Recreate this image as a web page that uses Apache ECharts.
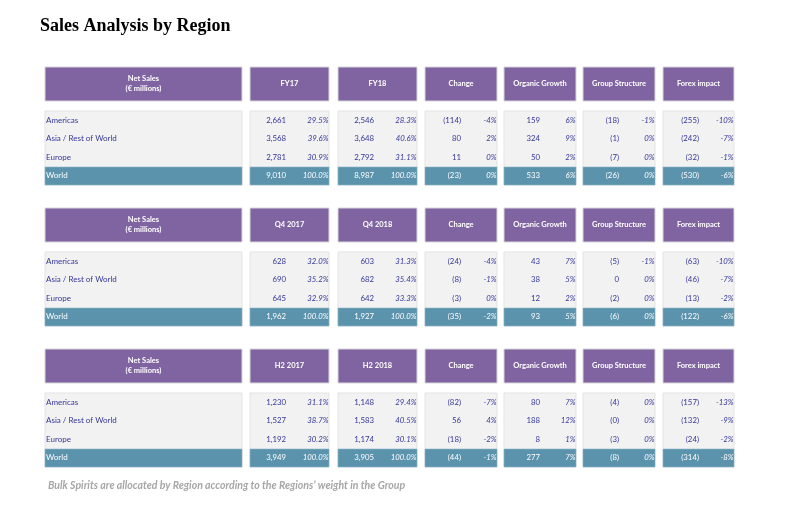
<!DOCTYPE html>
<html><head><meta charset="utf-8">
<script src="https://cdn.jsdelivr.net/npm/echarts@6/dist/echarts.min.js"></script>
<style>html,body{margin:0;padding:0;background:#fff}#c{width:806px;height:506px}</style>
</head><body><div id="c"></div>
<script>
// ---------- DATA ----------
const chartTitle = 'Sales Analysis by Region';
const footnote = 'Bulk Spirits are allocated by Region according to the Regions\u2019 weight in the Group';
const regions = ['Americas', 'Asia / Rest of World', 'Europe', 'World'];
const cornerLabel = 'Net Sales\n(\u20ac millions)';
const headersFY = ['FY17', 'FY18', 'Change', 'Organic Growth', 'Group Structure', 'Forex impact'];
const headersQ4 = ['Q4 2017', 'Q4 2018', 'Change', 'Organic Growth', 'Group Structure', 'Forex impact'];
const headersH2 = ['H2 2017', 'H2 2018', 'Change', 'Organic Growth', 'Group Structure', 'Forex impact'];
// amounts per row (Americas, Asia/RoW, Europe, World): [prev, curr, change, organic, group, forex]
const amountsFY = [
  [2661, 2546, -114, 159, -18, -255],
  [3568, 3648, 80, 324, -1, -242],
  [2781, 2792, 11, 50, -7, -32],
  [9010, 8987, -23, 533, -26, -530]
];
const pctsFY = [
  [29.5, 28.3, -4, 6, -1, -10],
  [39.6, 40.6, 2, 9, 0, -7],
  [30.9, 31.1, 0, 2, 0, -1],
  [100.0, 100.0, 0, 6, 0, -6]
];
const amountsQ4 = [
  [628, 603, -24, 43, -5, -63],
  [690, 682, -8, 38, 0, -46],
  [645, 642, -3, 12, -2, -13],
  [1962, 1927, -35, 93, -6, -122]
];
const pctsQ4 = [
  [32.0, 31.3, -4, 7, -1, -10],
  [35.2, 35.4, -1, 5, 0, -7],
  [32.9, 33.3, 0, 2, 0, -2],
  [100.0, 100.0, -2, 5, 0, -6]
];
const amountsH2 = [
  [1230, 1148, -82, 80, -4, -157],
  [1527, 1583, 56, 188, -0, -132],
  [1192, 1174, -18, 8, -3, -24],
  [3949, 3905, -44, 277, -8, -314]
];
const pctsH2 = [
  [31.1, 29.4, -7, 7, 0, -13],
  [38.7, 40.5, 4, 12, 0, -9],
  [30.2, 30.1, -2, 1, 0, -2],
  [100.0, 100.0, -1, 7, 0, -8]
];
const tables = [
  { headers: headersFY, amounts: amountsFY, pcts: pctsFY },
  { headers: headersQ4, amounts: amountsQ4, pcts: pctsQ4 },
  { headers: headersH2, amounts: amountsH2, pcts: pctsH2 }
];

// ---------- LAYOUT / STYLE ----------
const colW = [197, 79, 79, 72, 72, 72, 71];
const colGap = [8, 9, 8, 7, 7, 8];
const colStart = [0];
for (let i = 1; i < colW.length; i++) colStart.push(colStart[i - 1] + colW[i - 1] + colGap[i - 1]);
const totalW = colStart[colW.length - 1] + colW[colW.length - 1];
const headerH = 34, boxTop = 44, rowH = 18.5, tableH = 120;
const tableTops = [67, 208, 349];
const purple = '#8064a2', teal = '#5b93ad', grayBox = '#f2f2f2', txtColor = '#36369c';
const fontFam = 'Lato, "Open Sans", sans-serif';

function fmtAmt(v) {
  const neg = v < 0 || Object.is(v, -0);
  const s = Math.abs(v).toLocaleString('en-US');
  return neg ? '(' + s + ')' : s;
}
function fmtPct(v, c) {
  return (c <= 2 ? v.toFixed(1) : String(Math.round(v))) + '%';
}

function makeRender(t) {
  return function (params, api) {
    const c = api.value(0), r = api.value(1);
    const x0 = colStart[c], w = colW[c];
    const ch = [];
    if (r < 0) {
      const a = api.coord([x0, 0]), b = api.coord([x0 + w, headerH]);
      ch.push({ type: 'rect', shape: { x: a[0], y: a[1], width: b[0] - a[0], height: b[1] - a[1] },
        style: { fill: purple, stroke: '#d6d6d6', lineWidth: 1 } });
      const txt = c === 0 ? cornerLabel : t.headers[c - 1];
      ch.push({ type: 'text', style: { text: txt, x: (a[0] + b[0]) / 2, y: (a[1] + b[1]) / 2,
        align: 'center', verticalAlign: 'middle', textAlign: 'center', textVerticalAlign: 'middle',
        fill: '#ffffff', fontSize: 7.5, fontWeight: 'bold', fontFamily: fontFam, lineHeight: 10 } });
      const p = api.coord([x0, boxTop]), q = api.coord([x0 + w, boxTop + rowH * 4]);
      ch.push({ type: 'rect', z2: -1, shape: { x: p[0], y: p[1], width: q[0] - p[0], height: q[1] - p[1] },
        style: { fill: grayBox, stroke: '#e3e3e3', lineWidth: 1 } });
      return { type: 'group', children: ch };
    }
    const top = boxTop + r * rowH;
    const a = api.coord([x0, top]), b = api.coord([x0 + w, top + rowH]);
    const isWorld = r === 3;
    if (isWorld) {
      ch.push({ type: 'rect', shape: { x: a[0], y: a[1] + 0.5, width: b[0] - a[0], height: b[1] - a[1] - 0.5 },
        style: { fill: teal, stroke: '#8fb6c8', lineWidth: 0.6 } });
    }
    const cy = (a[1] + b[1]) / 2;
    const fill = isWorld ? '#ffffff' : txtColor;
    if (c === 0) {
      ch.push({ type: 'text', style: { text: regions[r], x: a[0] + 1, y: cy, align: 'left', textAlign: 'left',
        verticalAlign: 'middle', textVerticalAlign: 'middle', fill, fontSize: 8, fontFamily: fontFam } });
    } else {
      const amt = t.amounts[r][c - 1], pct = t.pcts[r][c - 1];
      ch.push({ type: 'text', style: { text: fmtAmt(amt), x: a[0] + 36, y: cy, align: 'right', textAlign: 'right',
        verticalAlign: 'middle', textVerticalAlign: 'middle', fill, fontSize: 7.8, fontFamily: fontFam } });
      ch.push({ type: 'text', style: { text: fmtPct(pct, c), x: b[0] - 0.5, y: cy, align: 'right', textAlign: 'right',
        verticalAlign: 'middle', textVerticalAlign: 'middle', fill, fontSize: 7.8, fontStyle: 'italic', fontFamily: fontFam } });
    }
    return { type: 'group', children: ch };
  };
}

const grid = [], xAxis = [], yAxis = [], series = [];
tables.forEach((t, i) => {
  grid.push({ left: 45, top: tableTops[i], width: totalW, height: tableH });
  xAxis.push({ type: 'value', gridIndex: i, min: 0, max: totalW, show: false });
  yAxis.push({ type: 'value', gridIndex: i, min: 0, max: tableH, inverse: true, show: false });
  const data = [];
  for (let c = 0; c < colW.length; c++) {
    data.push([c, -1]);
    for (let r = 0; r < regions.length; r++) data.push([c, r]);
  }
  series.push({ type: 'custom', xAxisIndex: i, yAxisIndex: i, data, encode: { x: -1, y: -1 },
    renderItem: makeRender(t), clip: false, silent: true, animation: false });
});

const chart = echarts.init(document.getElementById('c'), null, { renderer: 'canvas' });
chart.setOption({
  backgroundColor: '#ffffff',
  animation: false,
  title: [
    { text: chartTitle, left: 40, top: 17, padding: 0, textStyle: { fontFamily: '"Liberation Serif", serif', fontWeight: 'bold', fontSize: 18, color: '#000000' } },
    { text: footnote, left: 48, top: 480, padding: 0, textStyle: { fontFamily: fontFam, fontStyle: 'italic', fontWeight: 'bold', fontSize: 10.5, color: '#a6a6a6' } }
  ],
  grid, xAxis, yAxis, series
});
</script>
</body></html>
